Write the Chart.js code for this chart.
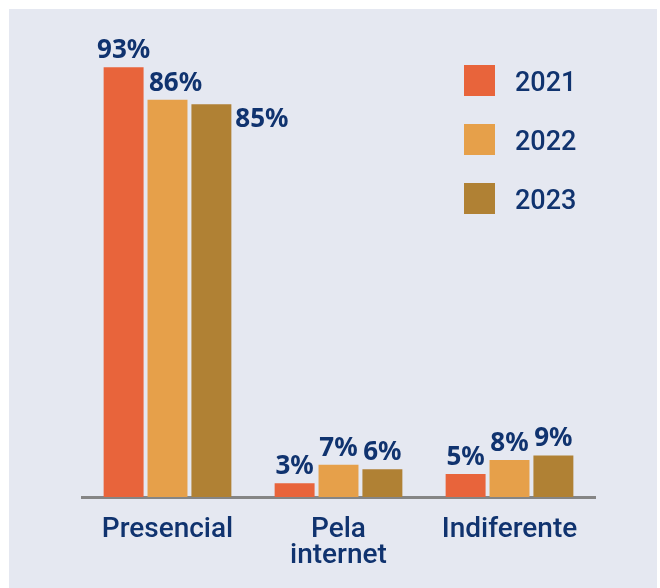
<!DOCTYPE html>
<html lang="pt">
<head>
  <meta charset="UTF-8" />
  <title>Preferência de atendimento</title>
  <script src="https://cdn.jsdelivr.net/npm/chart.js"></script>
  <style>
    html, body { margin: 0; padding: 0; background: #ffffff; }
    #painel {
      position: absolute;
      left: 9px; top: 9px;
      width: 648px; height: 579px;
      background: #e5e8f1;
    }
  </style>
</head>
<body>
  <div id="painel"><canvas id="grafico" width="648" height="579"></canvas></div>

  <script>
    // Dados
    const categorias = ["Presencial", ["Pela", "internet"], "Indiferente"];
    const anos = ["2021", "2022", "2023"];
    const valores2021 = [93, 3, 5];
    const valores2022 = [86, 7, 8];
    const valores2023 = [85, 6, 9];
    const cores = ["#e8643b", "#e6a04a", "#b08134"];
    const azul = "#10336f";

    // Rótulos de valor sobre as barras
    const rotulos = {
      id: "rotulos",
      afterDatasetsDraw(chart) {
        const ctx = chart.ctx;
        ctx.save();
        ctx.font = "bold 26px 'Noto Sans'";
        ctx.fillStyle = azul;
        ctx.textBaseline = "alphabetic";
        chart.data.datasets.forEach((ds, i) => {
          chart.getDatasetMeta(i).data.forEach((bar, j) => {
            const texto = ds.data[j] + "%";
            const ultimo = i === chart.data.datasets.length - 1;
            if (ultimo && j === 0) {
              // 85% fica ao lado da barra
              ctx.textAlign = "left";
              ctx.fillText(texto, bar.x + bar.width / 2 + 4, bar.y + 23);
            } else {
              ctx.textAlign = "center";
              const dx = (i === 1 && j === 0) ? 8 : 0;
              ctx.fillText(texto, bar.x + dx, bar.y - 9);
            }
          });
        });
        ctx.restore();
      }
    };

    // Legenda desenhada dentro da área do gráfico
    const legenda = {
      id: "legenda",
      afterDraw(chart) {
        const ctx = chart.ctx;
        const area = chart.chartArea;
        const x0 = area.right - 131;
        ctx.save();
        ctx.font = "500 27px Roboto";
        ctx.textAlign = "left";
        ctx.textBaseline = "alphabetic";
        chart.data.datasets.forEach((ds, i) => {
          const y0 = area.top + 30 + i * 59;
          ctx.fillStyle = ds.backgroundColor;
          ctx.fillRect(x0, y0, 31, 31);
          ctx.fillStyle = azul;
          ctx.fillText(ds.label, x0 + 51, y0 + 15.5 + 10);
        });
        ctx.restore();
      }
    };

    new Chart(document.getElementById("grafico"), {
      type: "bar",
      data: {
        labels: categorias,
        datasets: [
          { label: anos[0], data: valores2021, backgroundColor: cores[0] },
          { label: anos[1], data: valores2022, backgroundColor: cores[1] },
          { label: anos[2], data: valores2023, backgroundColor: cores[2] }
        ]
      },
      options: {
        responsive: false,
        animation: false,
        layout: { padding: { left: 73, right: 62, top: 26, bottom: 0 } },
        datasets: { bar: { categoryPercentage: 0.77, barPercentage: 0.91 } },
        plugins: { legend: { display: false }, tooltip: { enabled: false } },
        scales: {
          x: {
            grid: { display: false, drawTicks: false },
            border: { display: true, color: "#858585", width: 3 },
            ticks: {
              color: azul,
              padding: 20,
              font: { family: "Roboto", size: 28, weight: 500, lineHeight: 0.92 }
            },
            afterFit(scale) { scale.height = 91; }
          },
          y: { display: false, min: 0, max: 100 }
        }
      },
      plugins: [rotulos, legenda]
    });
  </script>
</body>
</html>
